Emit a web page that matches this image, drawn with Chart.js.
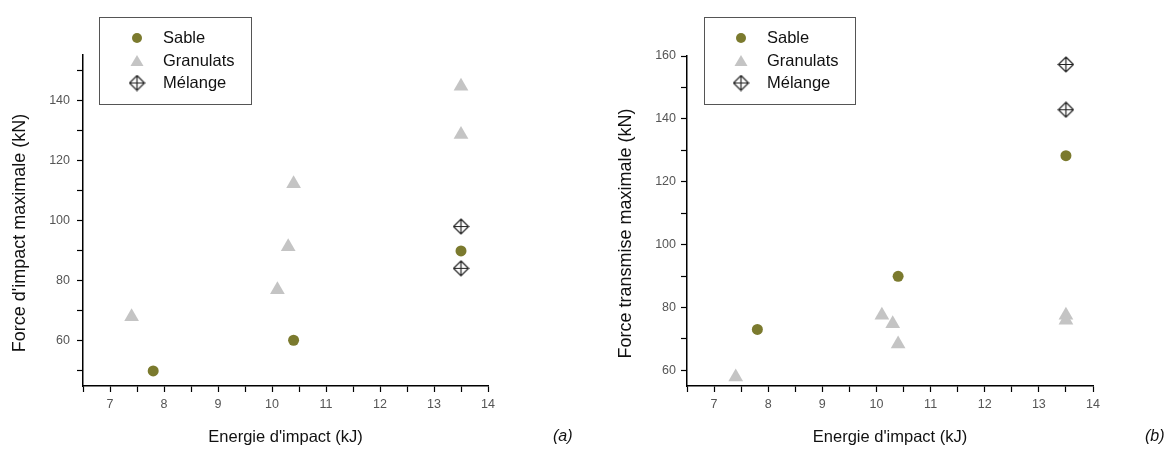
<!DOCTYPE html>
<html>
<head>
<meta charset="utf-8">
<script src="https://cdn.jsdelivr.net/npm/chart.js@4/dist/chart.umd.min.js"></script>
<style>
  body { margin: 0; background: #fff; }
  #wrap { position: relative; width: 1169px; height: 453px; }
  canvas { position: absolute; top: 0; }
</style>
</head>
<body>
<div id="wrap">
  <canvas id="chartA" width="585" height="453" style="left:0"></canvas>
  <canvas id="chartB" width="584" height="453" style="left:585px"></canvas>
</div>
<script>
// (a) force d'impact maximale
const sableA_x = [7.8, 10.4, 13.5];
const sableA_y = [50, 60.2, 89.9];
const granA_x = [7.4, 10.1, 10.3, 10.4, 13.5, 13.5];
const granA_y = [68, 77, 91.3, 112.2, 128.6, 144.6];
const melA_x = [13.5, 13.5];
const melA_y = [98, 84.1];

// (b) force transmise maximale
const sableB_x = [7.8, 10.4, 13.5];
const sableB_y = [73, 89.9, 128.3];
const granB_x = [7.4, 10.1, 10.3, 10.4, 13.5, 13.5];
const granB_y = [57.9, 77.5, 74.8, 68.4, 77.5, 75.9];
const melB_x = [13.5, 13.5];
const melB_y = [157.3, 142.9];

const seriesNames = ['Sable', 'Granulats', 'Mélange'];
const xTitle = "Energie d'impact (kJ)";

const OLIVE = '#7b7a2e';
const GREY = '#c4c4c4';
const FONT = 'Liberation Sans, Arial, sans-serif';

// diamond with a cross, used for "Mélange"
function makeMelangeMarker() {
  const c = document.createElement('canvas');
  c.width = 17; c.height = 17;
  const g = c.getContext('2d');
  g.strokeStyle = '#222';
  g.lineWidth = 1.2;
  g.beginPath();
  g.moveTo(8.5, 1); g.lineTo(16, 8.5); g.lineTo(8.5, 16); g.lineTo(1, 8.5); g.closePath();
  g.moveTo(1, 8.5); g.lineTo(16, 8.5);
  g.moveTo(8.5, 1); g.lineTo(8.5, 16);
  g.stroke();
  return c;
}
const melMarker = makeMelangeMarker();

function pts(xs, ys) {
  return xs.map((x, i) => ({ x: x, y: ys[i] }));
}

// tick every `step` inside [min, max]
function stepTicks(step) {
  return s => {
    const out = [];
    const start = Math.ceil(s.min / step - 1e-9) * step;
    for (let v = start; v <= s.max + 1e-9; v += step) {
      out.push({ value: Math.round(v * 100) / 100 });
    }
    s.ticks = out;
  };
}

// legend drawn inside the plot, plus the panel label
const boxLegend = {
  id: 'boxLegend',
  afterDraw(chart, args, o) {
    const ctx = chart.ctx;
    ctx.save();
    ctx.strokeStyle = '#555';
    ctx.lineWidth = 1;
    ctx.strokeRect(o.box[0] + 0.5, o.box[1] + 0.5, o.box[2], o.box[3]);
    ctx.font = '16.5px ' + FONT;
    ctx.fillStyle = '#111';
    ctx.textBaseline = 'middle';
    chart.data.datasets.forEach((ds, i) => {
      const y = o.rows[i];
      if (i === 0) {
        ctx.fillStyle = OLIVE;
        ctx.beginPath(); ctx.arc(o.mx, y, 5, 0, Math.PI * 2); ctx.fill();
      } else if (i === 1) {
        ctx.fillStyle = GREY;
        ctx.beginPath();
        ctx.moveTo(o.mx, y - 6); ctx.lineTo(o.mx + 6.5, y + 5); ctx.lineTo(o.mx - 6.5, y + 5);
        ctx.closePath(); ctx.fill();
      } else {
        ctx.drawImage(melMarker, o.mx - 8.5, y - 8.5);
      }
      ctx.fillStyle = '#111';
      ctx.fillText(ds.label, o.tx, y);
    });
    ctx.font = 'italic 16px ' + FONT;
    ctx.fillText(o.panel, o.px, o.py);
    ctx.restore();
  }
};

function makeChart(id, sx, sy, gx, gy, mx, my, yMin, yMax, yTitle, geo) {
  return new Chart(document.getElementById(id), {
    type: 'scatter',
    data: {
      datasets: [
        { label: seriesNames[0], data: pts(sx, sy), pointStyle: 'circle', pointRadius: 5.5,
          backgroundColor: OLIVE, borderWidth: 0 },
        { label: seriesNames[1], data: pts(gx, gy), pointStyle: 'triangle', pointRadius: 8.5,
          backgroundColor: GREY, borderWidth: 0 },
        { label: seriesNames[2], data: pts(mx, my), pointStyle: melMarker, pointRadius: 8 }
      ]
    },
    options: {
      responsive: false,
      animation: false,
      layout: { padding: { left: 0, top: geo.top, right: geo.right, bottom: 0 } },
      plugins: {
        legend: { display: false },
        tooltip: { enabled: false },
        boxLegend: geo.legend
      },
      scales: {
        x: {
          type: 'linear', position: 'bottom', min: 6.5, max: 14,
          border: { color: '#000', width: 1.5 },
          grid: { drawOnChartArea: false, drawTicks: true, tickLength: 6, tickColor: '#000', tickWidth: 1.2 },
          ticks: {
            autoSkip: false, maxRotation: 0, padding: 5,
            color: '#555', font: { family: FONT, size: 12.5 },
            callback: v => Number.isInteger(v) ? v : ''
          },
          afterBuildTicks: stepTicks(0.5),
          title: { display: true, text: xTitle, color: '#111',
                   font: { family: FONT, size: 16.5 }, padding: { top: 0, bottom: 6 } },
          afterFit: s => { s.height = 67; }
        },
        y: {
          type: 'linear', min: yMin, max: yMax,
          border: { color: '#000', width: 1.5 },
          grid: { drawOnChartArea: false, drawTicks: true, tickLength: 6, tickColor: '#000', tickWidth: 1.2 },
          ticks: {
            autoSkip: false, padding: geo.ytickPad,
            color: '#555', font: { family: FONT, size: 12.5 },
            callback: v => (v % 20 === 0) ? v : ''
          },
          afterBuildTicks: stepTicks(10),
          // trailing spaces nudge the centred title down like in the original
          title: { display: true, text: yTitle + '     ', color: '#111',
                   font: { family: FONT, size: 18 }, padding: { top: geo.ytitlePad, bottom: 0 } },
          afterFit: s => { s.width = geo.yw; }
        }
      }
    },
    plugins: [boxLegend]
  });
}

makeChart('chartA', sableA_x, sableA_y, granA_x, granA_y, melA_x, melA_y,
  45, 155, "Force d'impact maximale (kN)",
  { top: 55, right: 97, yw: 83, ytickPad: 7, ytitlePad: 9,
    legend: { box: [99, 17, 152, 87], mx: 137, tx: 163, rows: [38, 61, 83],
              panel: '(a)', px: 553, py: 437 } });

makeChart('chartB', sableB_x, sableB_y, granB_x, granB_y, melB_x, melB_y,
  55, 160, 'Force transmise maximale (kN)',
  { top: 56, right: 76, yw: 102, ytickPad: 5, ytitlePad: 30,
    legend: { box: [119, 17, 151, 87], mx: 156, tx: 182, rows: [38, 61, 83],
              panel: '(b)', px: 560, py: 437 } });
</script>
</body>
</html>
